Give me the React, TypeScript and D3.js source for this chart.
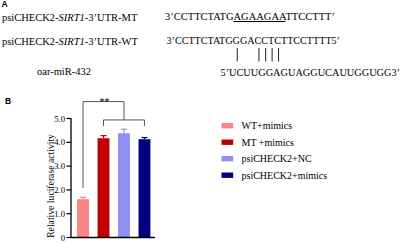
import React, { useLayoutEffect, useRef, useState } from "react";
import * as d3 from "d3";

// ---- Panel A data ----
const constructLabels = ["psiCHECK2-", "SIRT1", "-3’UTR-MT", "-3’UTR-WT"];
const mtSeqParts = ["3’CCTTCTATG", "AGAAGAA", "TTCCTTT’"];
const wtSeq = "3’CCTTCTATGGGACCTCTTCCTTTT5’";
const mirName = "oar-miR-432";
const mirSeq = "5’UCUUGGAGUAGGUCAUUGGUGG3’";
const pairIndices = [11, 14, 15, 16, 17];

// ---- Panel B data ----
const categories = ["WT+mimics", "MT +mimics", "psiCHECK2+NC", "psiCHECK2+mimics"];
const means = [1.61, 4.17, 4.38, 4.13];
const errors = [0.08, 0.11, 0.17, 0.07];
const barColors = ["#F98585", "#C00000", "#9090F4", "#000080"];
const yTicks = [0, 1, 2, 3, 4, 5];
const yTickLabels = ["0", "1.0", "2.0", "3.0", "4.0", "5.0"];
const yLabel = "Relative luciferase activity";
const sigLabel = "**";
// inner bracket: categories 1..3 ; outer bracket: category 0 -> inner bracket middle
const innerBracket = { from: 1, to: 3, level: 4.94, foot: 4.68 };
const outerBracket = { from: 0, level: 5.71, leftFoot: 2.08, rightFoot: 4.94 };

const SERIF = "'Liberation Serif', 'Times New Roman', serif";
const SANS = "'Liberation Sans', Arial, sans-serif";

export default function App() {
  const W = 401, H = 243;
  const wtRef = useRef<SVGTextElement>(null);
  const [pairX, setPairX] = useState<number[]>([]);

  useLayoutEffect(() => {
    const el = wtRef.current;
    if (!el) return;
    const xs = pairIndices.map((i) => {
      const ext = el.getExtentOfChar(i);
      return ext.x + ext.width / 2;
    });
    setPairX(xs);
  }, []);

  const x = d3.scaleBand<string>().domain(categories).range([73, 154.5]).paddingInner(0.42).paddingOuter(0.2);
  const y = d3.scaleLinear().domain([0, 5]).range([237.5, 118.5]);
  const cx = (i: number) => (x(categories[i]) as number) + x.bandwidth() / 2;
  const axisX = 71;
  const innerMid = (cx(innerBracket.from) + cx(innerBracket.to)) / 2;
  const outerLeft = cx(outerBracket.from);

  const legendX = 221.5, legendY0 = 125.7, legendStep = 16.5;

  return (
    <svg width={W} height={H} style={{ position: "absolute", left: 0, top: 0, background: "#fff" }}>
      <rect width={W} height={H} fill="#fff" />
      {/* Panel A */}
      <text x={1.5} y={7} fontFamily={SANS} fontWeight="bold" fontSize={8.5}>A</text>
      <text x={2} y={20.5} fontFamily={SERIF} fontSize={10.5}>
        {constructLabels[0]}<tspan fontStyle="italic">{constructLabels[1]}</tspan>{constructLabels[2]}
      </text>
      <text x={2} y={44.5} fontFamily={SERIF} fontSize={10.5}>
        {constructLabels[0]}<tspan fontStyle="italic">{constructLabels[1]}</tspan>{constructLabels[3]}
      </text>
      <text x={37} y={75} fontFamily={SERIF} fontSize={10.5}>{mirName}</text>
      <text x={165} y={20} fontFamily={SERIF} fontSize={10} textLength={170} lengthAdjust="spacingAndGlyphs">
        {mtSeqParts[0]}<tspan textDecoration="underline" style={{ textDecoration: "underline" }}>{mtSeqParts[1]}</tspan>{mtSeqParts[2]}
      </text>
      <text ref={wtRef} x={166.5} y={44} fontFamily={SERIF} fontSize={10} textLength={173.5} lengthAdjust="spacingAndGlyphs">
        {wtSeq}
      </text>
      {pairX.map((px, i) => (
        <line key={i} x1={px + 1} x2={px + 1} y1={48} y2={61.5} stroke="#222" strokeWidth={1} />
      ))}
      <text x={220.5} y={75.5} fontFamily={SERIF} fontSize={10} textLength={179.5} lengthAdjust="spacingAndGlyphs">
        {mirSeq}
      </text>

      {/* Panel B */}
      <text x={5} y={104} fontFamily={SANS} fontWeight="bold" fontSize={8.5}>B</text>
      <text
        transform={`translate(53.5,${(y(0) + y(4.5)) / 2 + 2}) rotate(-90)`}
        textAnchor="middle"
        fontFamily={SERIF}
        fontSize={9.7}
      >
        {yLabel}
      </text>
      {yTicks.map((t, i) => (
        <g key={t}>
          <line x1={axisX - 4.5} x2={axisX} y1={y(t)} y2={y(t)} stroke="#000" strokeWidth={1.2} />
          <text x={axisX - 6} y={y(t) + 3} textAnchor="end" fontFamily={SERIF} fontSize={8.7}>
            {yTickLabels[i]}
          </text>
        </g>
      ))}
      {categories.map((c, i) => (
        <g key={c}>
          <line x1={cx(i)} x2={cx(i)} y1={y(means[i])} y2={y(means[i] + errors[i])} stroke={barColors[i]} strokeWidth={1.2} />
          <line x1={cx(i) - 3} x2={cx(i) + 3} y1={y(means[i] + errors[i])} y2={y(means[i] + errors[i])} stroke={barColors[i]} strokeWidth={1.2} />
          <rect x={x(c)} y={y(means[i])} width={x.bandwidth()} height={y(0) - y(means[i])} fill={barColors[i]} />
        </g>
      ))}
      <line x1={axisX} x2={axisX} y1={y(5) - 0.6} y2={y(0)} stroke="#000" strokeWidth={1.3} />
      <line x1={axisX} x2={155} y1={y(0)} y2={y(0)} stroke="#000" strokeWidth={1.3} />

      {/* significance brackets */}
      <path
        d={`M${cx(innerBracket.from)},${y(innerBracket.foot)}V${y(innerBracket.level)}H${cx(innerBracket.to)}V${y(innerBracket.foot)}`}
        fill="none" stroke="#555" strokeWidth={1}
      />
      <path
        d={`M${outerLeft},${y(outerBracket.leftFoot)}V${y(outerBracket.level)}H${innerMid}V${y(outerBracket.rightFoot)}`}
        fill="none" stroke="#555" strokeWidth={1}
      />
      <text x={(outerLeft + innerMid) / 2 + 1} y={y(outerBracket.level) + 3} textAnchor="middle" fontFamily={SERIF} fontSize={10}>
        {sigLabel}
      </text>

      {/* legend */}
      {categories.map((c, i) => (
        <g key={"lg" + c}>
          <rect x={legendX} y={legendY0 + i * legendStep - 2.7} width={11.7} height={5.4} fill={barColors[i]} />
          <text x={241.5} y={legendY0 + i * legendStep + 3.4} fontFamily={SERIF} fontSize={10}>{c}</text>
        </g>
      ))}
    </svg>
  );
}
